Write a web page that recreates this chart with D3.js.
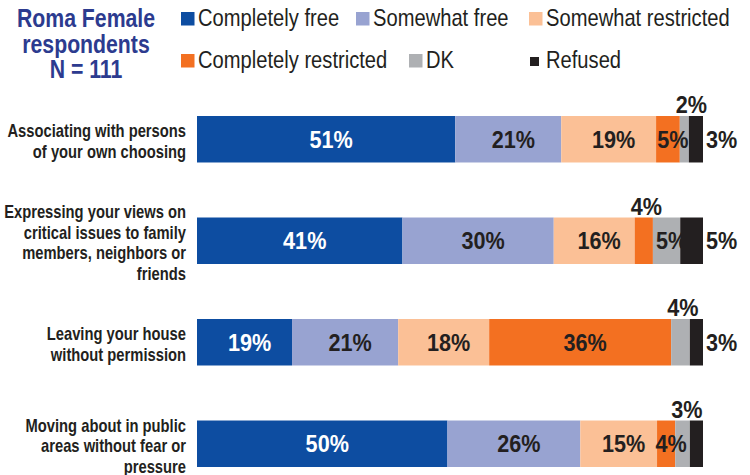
<!DOCTYPE html>
<html><head><meta charset="utf-8">
<script src="https://cdn.jsdelivr.net/npm/d3@7"></script>
<style>
body{margin:0;background:#fff;}
svg{display:block;}
text{font-family:'Liberation Sans',Arial,sans-serif;}
</style></head><body>
<svg id="chart" width="750" height="475"></svg>
<script>
// ---- data ----
const titleLines = ["Roma Female", "respondents", "N = 111"];
const categories = ["assoc", "express", "leave", "move"];
const categoryLines = [
  ["Associating with persons", "of your own choosing"],
  ["Expressing your views on", "critical issues to family", "members, neighbors or", "friends"],
  ["Leaving your house", "without permission"],
  ["Moving about in public", "areas without fear or", "pressure"]
];
const seriesNames = ["Completely free", "Somewhat free", "Somewhat restricted", "Completely restricted", "DK", "Refused"];
const seriesColors = ["#0D4DA1", "#98A3D1", "#FBC096", "#F37021", "#AEB0B3", "#231F20"];
const completelyFree       = [51.2, 40.6, 18.8, 49.6];
const somewhatFree         = [21.0, 29.9, 21.0, 26.3];
const somewhatRestricted   = [18.8, 16.0, 18.0, 15.2];
const completelyRestricted = [4.7, 3.6, 36.0, 3.6];
const dontKnow             = [1.8, 5.4, 3.7, 2.9];
const refused              = [2.8, 4.5, 2.6, 2.6];
const labelPlacement = [
  ["in", "in", "in", "in", "above", "right"],
  ["in", "in", "in", "above", "in", "right"],
  ["in", "in", "in", "in", "above", "right"],
  ["in", "in", "in", "in", "above", "none"]
];

// ---- build table ----
const seriesValues = [completelyFree, somewhatFree, somewhatRestricted, completelyRestricted, dontKnow, refused];
const table = categories.map((c, i) => {
  const row = {cat: c, idx: i};
  seriesNames.forEach((s, j) => row[s] = seriesValues[j][i]);
  return row;
});

const svg = d3.select("#chart");
const x = d3.scaleLinear().domain([0, 1]).range([197, 703]);
const y = d3.scaleBand().domain(categories).range([116, 467]).paddingInner(0.542).paddingOuter(0);
const color = d3.scaleOrdinal().domain(seriesNames).range(seriesColors);

const stack = d3.stack().keys(seriesNames).offset(d3.stackOffsetExpand);
const layers = stack(table);

// condensed text helper: horizontal squeeze about the anchor point
function ctext(parent, tx, ty, str, opts) {
  const sx = opts.sx || 0.82;
  return parent.append("text")
    .attr("transform", `translate(${tx},${ty}) scale(${sx},1)`)
    .attr("text-anchor", opts.anchor || "start")
    .attr("fill", opts.fill || "#231F20")
    .attr("dy", opts.dy || null)
    .style("font-weight", opts.weight || "normal")
    .style("font-size", opts.size + "px")
    .text(str);
}

// bars
const g = svg.append("g");
layers.forEach((layer, j) => {
  g.selectAll(null).data(layer).enter().append("rect")
    .attr("x", d => x(d[0]))
    .attr("y", d => y(d.data.cat))
    .attr("width", d => x(d[1]) - x(d[0]))
    .attr("height", y.bandwidth())
    .attr("fill", color(seriesNames[j]));
});

// value labels
const vl = svg.append("g");
layers.forEach((layer, j) => {
  layer.forEach((d, i) => {
    const mode = labelPlacement[i][j];
    if (mode === "none") return;
    const txt = Math.round(seriesValues[j][i]) + "%";
    const cy = y(d.data.cat) + y.bandwidth() / 2;
    const o = {size: 23, weight: "bold", sx: 0.94};
    if (mode === "in") {
      ctext(vl, (x(d[0]) + x(d[1])) / 2 + 5, cy, txt,
        Object.assign(o, {anchor: "middle", dy: "0.36em", fill: j === 0 ? "#ffffff" : "#231F20"}));
    } else if (mode === "above") {
      ctext(vl, x(d[0]) - 4, y(d.data.cat) - 3, txt, Object.assign(o, {anchor: "start"}));
    } else {
      ctext(vl, x(d[1]) + 3, cy, txt, Object.assign(o, {anchor: "start", dy: "0.36em"}));
    }
  });
});

// category labels
const lineH = 20.5;
const cl = svg.append("g");
categories.forEach((c, i) => {
  const lines = categoryLines[i];
  const cy = y(c) + y.bandwidth() / 2 + 2;
  lines.forEach((ln, k) => {
    ctext(cl, 186, cy + (k - (lines.length - 1) / 2) * lineH, ln,
      {anchor: "end", size: 18, weight: "bold", dy: "0.36em"});
  });
});

// title
const tg = svg.append("g");
titleLines.forEach((t, i) => {
  ctext(tg, 86, 27 + i * 25.5, t, {anchor: "middle", size: 25, weight: "bold", fill: "#2C3B8F", sx: 0.85});
});

// legend
const legendPos = [[181, 12], [356, 12], [529, 12], [181, 54], [409, 54], [529, 54]];
const lg = svg.append("g");
seriesNames.forEach((s, j) => {
  const [lx, ly] = legendPos[j];
  const small = j === 5;
  const sz = small ? 9 : 13.5;
  lg.append("rect")
    .attr("x", small ? lx + 1 : lx).attr("y", small ? ly + 3 : ly)
    .attr("width", sz).attr("height", sz).attr("fill", color(s));
  ctext(lg, lx + 17, ly + 14, s, {size: 24, anchor: "start", sx: 0.84});
});
</script>
</body></html>
